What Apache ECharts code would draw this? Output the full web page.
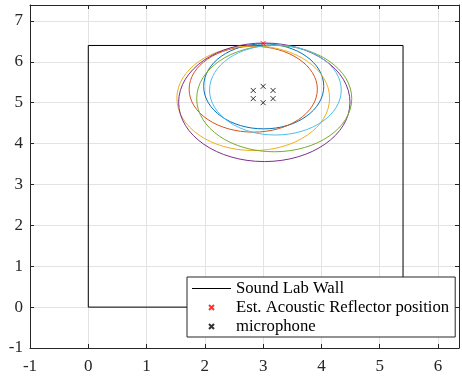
<!DOCTYPE html>
<html><head><meta charset="utf-8">
<script src="https://cdn.jsdelivr.net/npm/echarts@6/dist/echarts.min.js"></script>
<style>html,body{margin:0;padding:0;background:#fff}#c{width:462px;height:382px}</style>
</head><body><div id="c"></div>
<script>
// Data
const wallX = [0, 0, 5.4, 5.4, 0];
const wallY = [0, 6.4, 6.4, 0, 0];
const reflectorX = [3.0];
const reflectorY = [6.45];
const micX = [2.83, 3.0, 3.17, 2.83, 3.0, 3.17];
const micY = [5.3, 5.4, 5.3, 5.1, 5.0, 5.1];
// ellipses: centre x, centre y, semi-axis x, semi-axis y
const ellCx = [3.01, 2.83, 2.83, 3.02, 3.19, 3.21];
const ellCy = [5.40, 5.33, 5.11, 5.01, 5.10, 5.31];
const ellA  = [1.03, 1.10, 1.31, 1.47, 1.33, 1.13];
const ellB  = [1.04, 1.05, 1.28, 1.45, 1.30, 1.10];
const xTicks = [-1, 0, 1, 2, 3, 4, 5, 6];
const yTicks = [-1, 0, 1, 2, 3, 4, 5, 6, 7];

const ellColors = ['#0072BD', '#D95319', '#EDB120', '#7E2F8E', '#77AC30', '#4DBEEE'];
const FONT = '"Liberation Serif", "Times New Roman", serif';
const AX = '#262626';
const xMark = 'path://M0,0 M14,14 M4.5,4.5 L9.5,9.5 M9.5,4.5 L4.5,9.5';
const lineIcon = 'path://M0,0 M39,14 M0,6.5 L39,6.5 L39,7.5 L0,7.5 Z';

const zip = (a, b) => a.map((v, i) => [v, b[i]]);

const axisCommon = {
  type: 'value', interval: 1,
  axisLine: { show: true, onZero: false, lineStyle: { color: AX, width: 1 } },
  axisTick: { show: true, inside: true, length: 4, lineStyle: { color: AX } },
};

const ellSeries = ellCx.map((cx, i) => ({
  type: 'custom', name: 'ell' + i, clip: true, z: 3,
  data: [[cx, ellCy[i], ellA[i], ellB[i]]],
  renderItem: (params, api) => {
    const c = api.coord([api.value(0), api.value(1)]);
    const s = api.size([api.value(2), api.value(3)]);
    return { type: 'ellipse', shape: { cx: c[0], cy: c[1], rx: s[0], ry: s[1] },
      style: { fill: 'none', stroke: ellColors[i], lineWidth: 1 } };
  }
}));

const chart = echarts.init(document.getElementById('c'), null, { renderer: 'canvas' });
chart.setOption({
  animation: false,
  backgroundColor: '#fff',
  grid: { left: 30, right: 1, top: 5, bottom: 34 },
  xAxis: [
    Object.assign({}, axisCommon, { min: -1, max: 6.36, position: 'bottom',
      axisLabel: { show: true, margin: 10, fontFamily: FONT, fontSize: 17, color: AX,
        formatter: v => xTicks.includes(v) ? String(v) : '' },
      splitLine: { show: true, lineStyle: { color: '#e3e3e3', width: 1 } } }),
    Object.assign({}, axisCommon, { min: -1, max: 6.36, position: 'top',
      axisLabel: { show: false }, splitLine: { show: false } })
  ],
  yAxis: [
    Object.assign({}, axisCommon, { min: -1, max: 7.39, position: 'left',
      axisLabel: { show: true, margin: 7, fontFamily: FONT, fontSize: 17, color: AX,
        formatter: v => yTicks.includes(v) ? String(v) : '' },
      splitLine: { show: true, lineStyle: { color: '#e3e3e3', width: 1 } } }),
    Object.assign({}, axisCommon, { min: -1, max: 7.39, position: 'right',
      axisLabel: { show: false }, splitLine: { show: false } })
  ],
  legend: {
    orient: 'vertical', left: 187, top: 277,
    padding: [3, 6, 2, 5], itemGap: 2, itemWidth: 39, itemHeight: 14,
    backgroundColor: '#fff', borderColor: AX, borderWidth: 1, borderRadius: 0,
    textStyle: { fontFamily: FONT, fontSize: 16.7, color: '#000', lineHeight: 17 },
    data: [
      { name: 'Sound Lab Wall', icon: lineIcon, itemStyle: { color: '#000', borderWidth: 0 } },
      'Est. Acoustic Reflector position',
      'microphone'
    ],
    selectedMode: false
  },
  series: [
    { type: 'line', name: 'Sound Lab Wall', data: zip(wallX, wallY), symbol: 'none', z: 2,
      lineStyle: { color: '#000', width: 1 }, itemStyle: { color: '#000' } },
    ...ellSeries,
    { type: 'scatter', name: 'Est. Acoustic Reflector position', data: zip(reflectorX, reflectorY),
      symbol: xMark, symbolSize: 14, z: 5,
      itemStyle: { color: '#ff0000', borderColor: '#ff0000', borderWidth: 1 } },
    { type: 'scatter', name: 'microphone', data: zip(micX, micY),
      symbol: xMark, symbolSize: 14, z: 5,
      itemStyle: { color: '#000', borderColor: '#000', borderWidth: 1 } }
  ]
});
</script></body></html>
